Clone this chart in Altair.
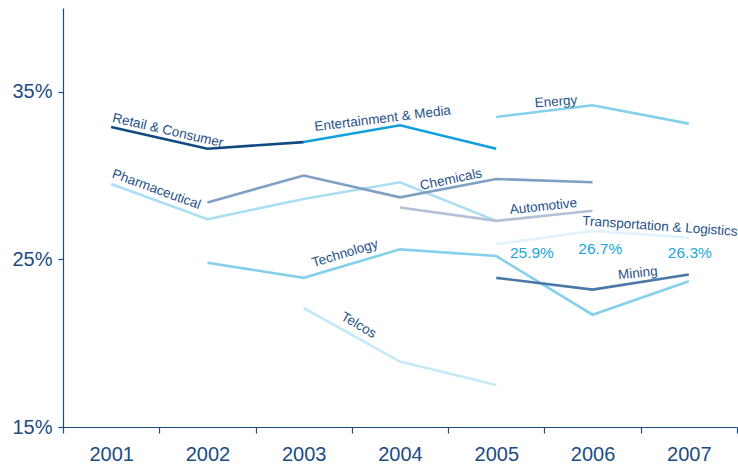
import altair as alt
import pandas as pd

years = [2001, 2002, 2003, 2004, 2005, 2006, 2007]

series_names = [
    "Transportation & Logistics", "Telcos", "Pharmaceutical", "Automotive",
    "Technology", "Energy", "Chemicals", "Mining", "Entertainment & Media",
    "Retail & Consumer",
]
retail = [32.9, 31.6, 32.0, None, None, None, None]
entertainment = [None, None, 32.0, 33.0, 31.6, None, None]
energy = [None, None, None, None, 33.5, 34.2, 33.1]
pharma = [29.5, 27.4, 28.6, 29.6, 27.3, None, None]
chemicals = [None, 28.4, 30.0, 28.7, 29.8, 29.6, None]
automotive = [None, None, None, 28.1, 27.3, 27.9, None]
transport = [None, None, None, None, 25.9, 26.7, 26.3]
technology = [None, 24.8, 23.9, 25.6, 25.2, 21.7, 23.7]
mining = [None, None, None, None, 23.9, 23.2, 24.1]
telcos = [None, None, 22.1, 18.9, 17.5, None, None]

series_values = [transport, telcos, pharma, automotive, technology, energy,
                 chemicals, mining, entertainment, retail]
series_colors = ["#e0f3fb", "#c5e9f7", "#a9def3", "#b2c1d6", "#86d0ec",
                 "#86d0ec", "#7fa0c4", "#4a79a8", "#12a0dc", "#114a82"]

# series label anchors (data units: year, percent) and text angles
label_names = ["Retail & Consumer", "Entertainment & Media", "Energy",
               "Pharmaceutical", "Chemicals", "Automotive",
               "Transportation & Logistics", "Technology", "Telcos", "Mining"]
label_x = [2001.59, 2003.82, 2005.62, 2001.47, 2004.53, 2005.49,
           2006.70, 2003.43, 2003.57, 2006.47]
label_y = [32.68, 33.39, 34.40, 29.17, 29.76, 28.15, 26.96, 25.36, 21.07, 24.17]
label_angle = [13, 353, 356, 20, 348, 354, 4, 343, 30, 354]

# value call-outs for Transportation & Logistics
value_x = [2005.37, 2006.08, 2007.01]
value_y = [25.36, 25.65, 25.36]
value_text = [f"{v}%" for v in transport[4:]]

rows = []
for name, vals in zip(series_names, series_values):
    for yr, v in zip(years, vals):
        if v is not None:
            rows.append({"series": name, "year": str(yr), "value": v})
lines_df = pd.DataFrame(rows)

labels_df = pd.DataFrame({"text": label_names, "x": label_x, "y": label_y,
                          "angle": label_angle})
values_df = pd.DataFrame({"text": value_text, "x": value_x, "y": value_y})

AXIS = "#1b4c82"
FONT = "Liberation Sans"

y_scale = alt.Scale(domain=[15, 40], nice=False, zero=False)
y_axis = alt.Axis(title=None, values=[15, 25, 35],
                  labelExpr="datum.value + '%'", grid=False,
                  labelFont=FONT, labelFontSize=20, labelColor=AXIS,
                  domainColor=AXIS, tickColor=AXIS, tickSize=5,
                  labelPadding=6, domainWidth=1.2, tickWidth=1.2)

lines = alt.Chart(lines_df).mark_line(strokeWidth=2.6).encode(
    x=alt.X("year:O", sort=[str(y) for y in years],
            scale=alt.Scale(paddingInner=0, paddingOuter=0),
            axis=alt.Axis(title=None, labelAngle=0, tickBand="extent",
                          labelFont=FONT, labelFontSize=20, labelColor=AXIS,
                          domainColor=AXIS, tickColor=AXIS, tickSize=6,
                          labelPadding=11, domainWidth=1.2, tickWidth=1.2)),
    y=alt.Y("value:Q", scale=y_scale, axis=y_axis),
    color=alt.Color("series:N", scale=alt.Scale(domain=series_names,
                                                range=series_colors),
                    legend=None),
    detail="series:N",
)

x_lab = alt.X("x:Q", scale=alt.Scale(domain=[2000.5, 2007.5], nice=False,
                                     zero=False), axis=None)

labels = alt.Chart(labels_df).mark_text(
    font=FONT, fontSize=13.5, color="#1f5289", align="center",
    baseline="middle").encode(
    x=x_lab,
    y=alt.Y("y:Q", scale=y_scale, axis=y_axis),
    text="text:N",
    angle=alt.Angle("angle:Q", scale=None),
)

values = alt.Chart(values_df).mark_text(
    font=FONT, fontSize=15.5, color="#20a5dd", align="center",
    baseline="middle").encode(
    x=x_lab,
    y=alt.Y("y:Q", scale=y_scale, axis=y_axis),
    text="text:N",
)

chart = alt.layer(lines, labels, values).resolve_scale(
    x="independent"
).properties(
    width=674, height=419,
    autosize=alt.AutoSizeParams(type="none"),
    padding={"left": 63, "top": 8, "right": 1, "bottom": 41},
).configure_view(stroke=None)

chart.save("out.html", embed_options={"renderer": "svg", "actions": False})
